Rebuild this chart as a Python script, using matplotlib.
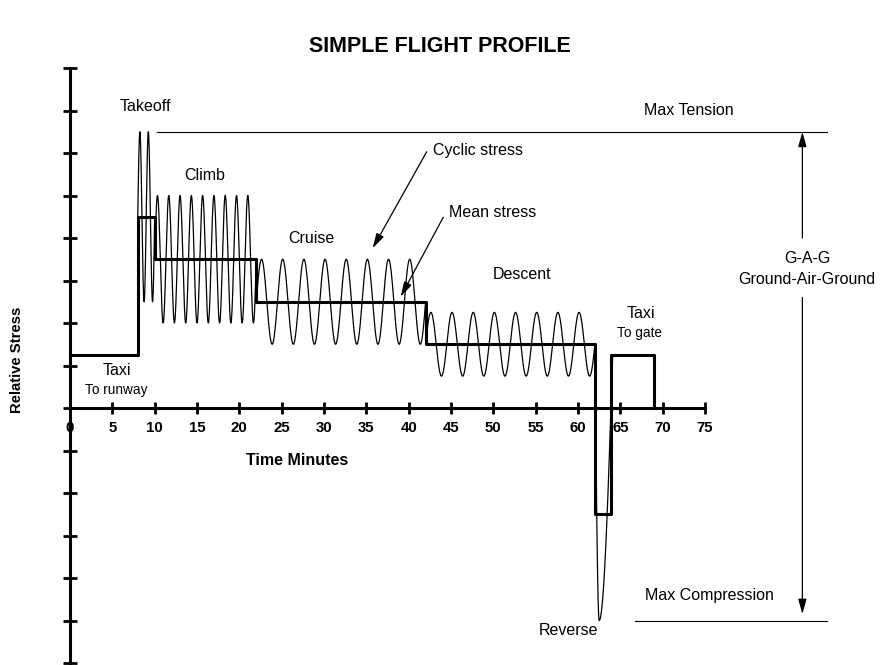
import numpy as np
import matplotlib
matplotlib.use("Agg")
import matplotlib.pyplot as plt

plt.rcParams['font.family'] = ['Liberation Sans', 'DejaVu Sans']

# ---- data ----
# mean stress steps (time in minutes, relative stress level)
step_times = [0, 8, 10, 22, 42, 62, 63.85, 69]
step_levels = [1.25, 4.5, 3.5, 2.5, 1.5, -2.5, 1.25, 0]

# cyclic stress segments
seg_start = [8, 10, 22, 42]
seg_end = [10, 22, 42, 62]
seg_mean = [4.5, 3.5, 2.5, 1.5]
seg_amp = [2.0, 1.5, 1.0, 0.75]
seg_cycles = [2, 9, 8, 8]

# reverse thrust spike
rev_start, rev_trough_t, rev_end = 62.0, 62.5, 64.1
rev_start_level, rev_min, rev_end_level = 1.5, -5.0, 1.25

max_tension = 6.5
max_compression = -5.0

x_ticks = list(range(0, 80, 5))
y_ticks = list(range(-6, 9))

# ---- figure ----
W, H = 883, 665
fig = plt.figure(figsize=(W / 100, H / 100), dpi=100)
ax = fig.add_axes([0, 0, 1, 1])
px_per_min = 8.4667
px_per_unit = 42.5
x0_px, y0_px = 70, 408
ax.set_xlim(-x0_px / px_per_min, (W - x0_px) / px_per_min)
ax.set_ylim(-(H - y0_px) / px_per_unit, y0_px / px_per_unit)

for s in ['top', 'right']:
    ax.spines[s].set_visible(False)
ax.spines['bottom'].set_position(('data', 0))
ax.spines['left'].set_position(('data', 0))
ax.spines['bottom'].set_bounds(0, 75)
ax.spines['left'].set_bounds(-6, 8)
ax.spines['bottom'].set_linewidth(2.2)
ax.spines['left'].set_linewidth(2.2)
ax.spines['bottom'].set_zorder(5)
ax.spines['left'].set_zorder(5)
ax.set_xticks(x_ticks)
ax.set_xticklabels([str(v) for v in x_ticks], fontweight='bold', fontsize=10.8)
ax.set_yticks(y_ticks)
ax.tick_params(axis='x', direction='inout', length=8, width=2, pad=5)
ax.tick_params(axis='y', direction='inout', length=10, width=2, labelleft=False)

# cyclic stress (thin)
cx, cy = [], []
for s, e, m, a, n in zip(seg_start, seg_end, seg_mean, seg_amp, seg_cycles):
    t = np.linspace(s, e, 600)
    cx.extend(t)
    cy.extend(m + a * np.sin(2 * np.pi * n * (t - s) / (e - s)))
t1 = np.linspace(rev_start, rev_trough_t, 100)
cx.extend(t1)
cy.extend(rev_start_level - (rev_start_level - rev_min) * np.sin(np.pi / 2 * (t1 - rev_start) / (rev_trough_t - rev_start)))
t2 = np.linspace(rev_trough_t, rev_end, 200)
cx.extend(t2)
cy.extend(rev_min + (rev_end_level - rev_min) * (1 - np.cos(np.pi / 2 * (t2 - rev_trough_t) / (rev_end - rev_trough_t))))
ax.plot(cx, cy, color='black', lw=0.9, zorder=3)

# mean stress (thick)
ax.plot(step_times, step_levels, drawstyle='steps-post', color='black', lw=2.2, zorder=4)

# max tension / compression lines
ax.plot([10.3, 89.4], [max_tension, max_tension], color='black', lw=0.8)
ax.plot([66.7, 89.4], [max_compression, max_compression], color='black', lw=0.8)

# G-A-G arrows
arrow_kw = dict(arrowstyle='-|>,head_length=0.9,head_width=0.25', color='black', lw=0.9, shrinkA=0, shrinkB=0)
ax.annotate('', xy=(86.5, max_tension), xytext=(86.5, 4.0), arrowprops=arrow_kw)
ax.annotate('', xy=(86.5, -4.85), xytext=(86.5, 2.6), arrowprops=arrow_kw)

# pointer arrows
ax.annotate('', xy=(35.75, 3.76), xytext=(42.13, 6.03), arrowprops=arrow_kw)
ax.annotate('', xy=(39.06, 2.62), xytext=(44.09, 4.49), arrowprops=arrow_kw)

fs = 11.5
texts = [
    ('Takeoff', 8.94, 7.09, fs),
    ('Climb', 15.94, 5.46, fs),
    ('Cruise', 28.46, 3.99, fs),
    ('Descent', 53.39, 3.15, fs),
    ('Taxi', 5.59, 0.894, fs),
    ('To runway', 5.52, 0.424, 9.8),
    ('Taxi', 67.4, 2.23, fs),
    ('To gate', 67.32, 1.77, 9.8),
    ('Max Tension', 73.14, 7.01, fs),
    ('G-A-G', 87.08, 3.52, fs),
    ('Ground-Air-Ground', 87.05, 3.03, fs),
    ('Max Compression', 75.47, -4.4, fs),
    ('Reverse', 58.85, -5.24, fs),
    ('Cyclic stress', 48.23, 6.07, fs),
    ('Mean stress', 49.92, 4.6, fs),
]
for s, x, y, f in texts:
    ax.text(x, y, s, fontsize=f, ha='center', va='center')

ax.text(26.77, -1.24, 'Time Minutes', fontsize=11.5, fontweight='bold', ha='center', va='center')
ax.text(-6.22, 1.13, 'Relative Stress', fontsize=10.7, fontweight='bold', ha='center', va='center', rotation=90)
fig.text(440 / W, 1 - 47 / H, 'SIMPLE FLIGHT PROFILE', fontsize=15.5, fontweight='bold', ha='center', va='center')

fig.savefig('out.png', dpi=100)
